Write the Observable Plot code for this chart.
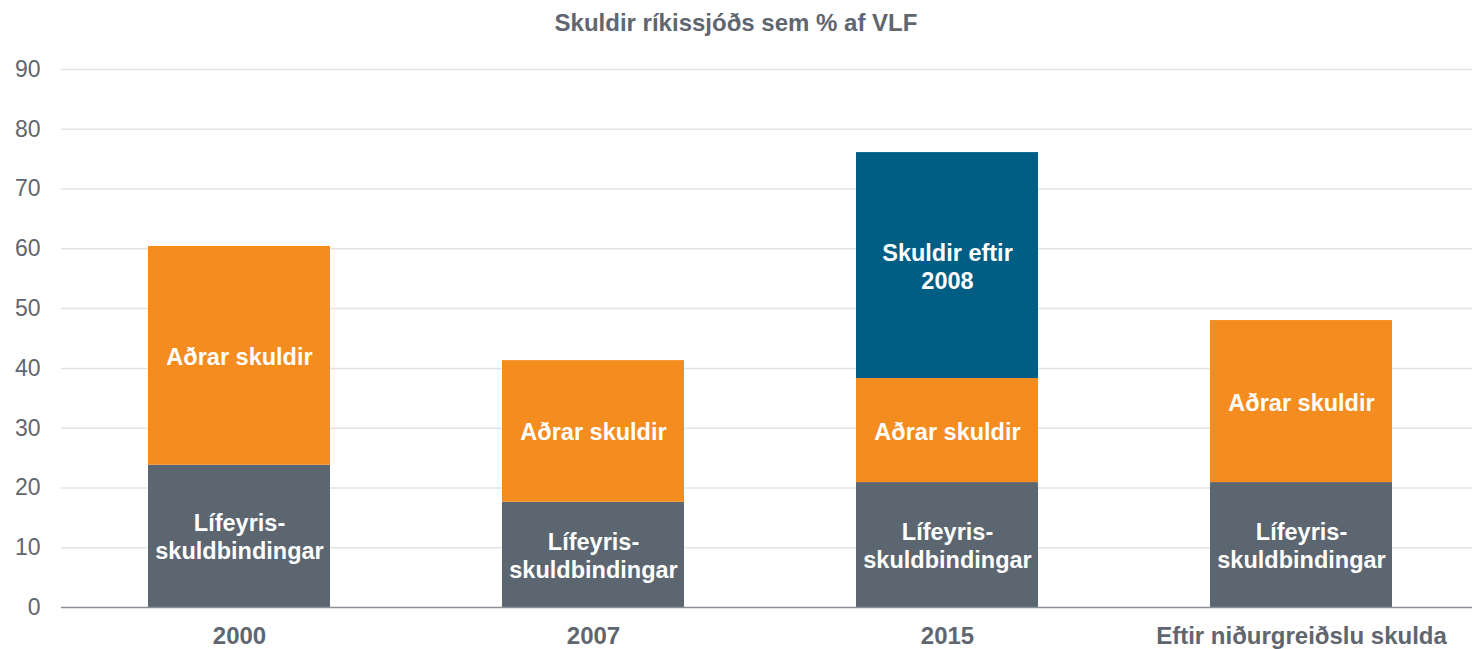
<!DOCTYPE html>
<html>
<head>
<meta charset="utf-8">
<script src="https://cdn.jsdelivr.net/npm/d3@7"></script>
<script src="https://cdn.jsdelivr.net/npm/@observablehq/plot@0.6"></script>
<style>
  html, body { margin: 0; padding: 0; background: #fff; overflow: hidden; }
  #title { box-sizing: border-box; height: 40px; padding-top: 9px; line-height: 26px; text-align: center; font: bold 24px "Liberation Sans", Arial, sans-serif; color: #5f6670; }
  #chart svg { display: block; }
</style>
</head>
<body>
<div id="title">Skuldir ríkissjóðs sem % af VLF</div>
<div id="chart"></div>
<script>
const categories = ["2000", "2007", "2015", "Eftir niðurgreiðslu skulda"];
const seriesNames = ["Lífeyrisskuldbindingar", "Aðrar skuldir", "Skuldir eftir 2008"];
const seriesLabels = ["Lífeyris-\nskuldbindingar", "Aðrar skuldir", "Skuldir eftir\n2008"];
const lifeyris = [23.8, 17.6, 20.9, 20.9];
const adrar = [36.6, 23.7, 17.4, 27.1];
const eftir2008 = [0, 0, 37.8, 0];
const seriesColors = ["#5c6670", "#f48c20", "#005d84"];
const yTicks = [0, 10, 20, 30, 40, 50, 60, 70, 80, 90];

const seriesValues = [lifeyris, adrar, eftir2008];
const data = [];
seriesNames.forEach((s, si) => {
  categories.forEach((c, ci) => {
    data.push({category: c, series: s, value: seriesValues[si][ci], label: seriesLabels[si]});
  });
});
const nonzero = data.filter(d => d.value > 0);

const chart = Plot.plot({
  width: 1472,
  height: 609,
  marginTop: 29,
  marginBottom: 42,
  marginLeft: 61,
  marginRight: 0,
  style: {fontFamily: "'Liberation Sans', Arial, sans-serif", fontSize: "23px", color: "#5f6670", background: "#fff", overflow: "visible"},
  x: {domain: categories, range: [61, 1478], paddingInner: 0.486, paddingOuter: 0.243, label: null},
  y: {domain: [0, 90], ticks: yTicks, label: null},
  color: {domain: seriesNames, range: seriesColors},
  marks: [
    Plot.gridY(yTicks.filter(t => t > 0), {stroke: "#e3e3e3", strokeOpacity: 1, strokeWidth: 1.5}),
    Plot.barY(nonzero, {x: "category", y: "value", fill: "series", order: seriesNames}),
    Plot.ruleY([0], {stroke: "#8a9099", strokeWidth: 1.5}),
    Plot.text(nonzero, Plot.stackY({x: "category", y: "value", z: "series", order: seriesNames, text: "label", fill: "white", fontWeight: "bold", fontSize: 23.5, lineHeight: 1.2})),
    Plot.axisY({ticks: yTicks, tickSize: 0, tickPadding: 21, fill: "#5f6670", fontSize: 23}),
    Plot.axisX({tickSize: 0, tickPadding: 19, fontWeight: "bold", fill: "#5f6670", fontSize: 24})
  ]
});
document.getElementById("chart").appendChild(chart);
</script>
</body>
</html>
